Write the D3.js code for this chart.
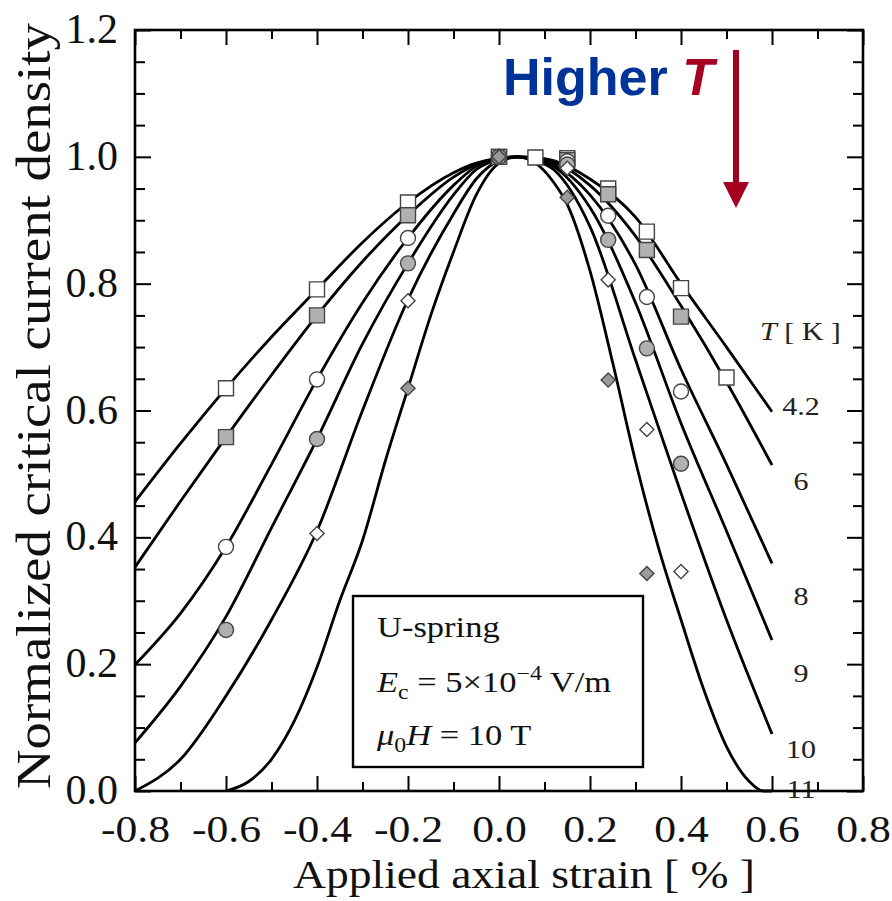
<!DOCTYPE html>
<html>
<head>
<meta charset="utf-8">
<script src="https://cdn.jsdelivr.net/npm/d3@7"></script>
<style>
  body { margin: 0; background: #fff; }
  text { font-family: "Liberation Serif", "Times New Roman", serif; }
</style>
</head>
<body>
<script>
// fitted curves
var fitStrain = [-0.8, -0.7, -0.6, -0.5, -0.4, -0.3, -0.2, -0.1, -0.05, 0, 0.04, 0.08, 0.12, 0.2, 0.3, 0.4, 0.5, 0.6];
var fit42 = [0.456, 0.548, 0.635, 0.716, 0.791, 0.865, 0.928, 0.975, 0.99, 0.998, 1.0, 0.999, 0.994, 0.965, 0.905, 0.80, 0.70, 0.598];
var fit6  = [0.353, 0.457, 0.558, 0.656, 0.750, 0.835, 0.908, 0.968, 0.988, 0.998, 1.0, 0.998, 0.992, 0.955, 0.875, 0.765, 0.645, 0.514];
var fit8  = [0.199, 0.28, 0.385, 0.515, 0.649, 0.77, 0.872, 0.955, 0.985, 0.997, 1.0, 0.997, 0.988, 0.94, 0.83, 0.665, 0.515, 0.359];
var fit9  = [0.076, 0.165, 0.275, 0.415, 0.555, 0.705, 0.832, 0.94, 0.98, 0.996, 1.0, 0.996, 0.985, 0.92, 0.77, 0.58, 0.41, 0.238];
var fit10 = [0.0, 0.05, 0.15, 0.27, 0.41, 0.60, 0.775, 0.91, 0.965, 0.994, 1.0, 0.994, 0.98, 0.89, 0.68, 0.47, 0.27, 0.09];
var strain11 = [-0.6, -0.55, -0.5, -0.45, -0.4, -0.35, -0.3, -0.25, -0.2, -0.15, -0.1, -0.05, 0, 0.04, 0.08, 0.12, 0.15, 0.2, 0.25, 0.3, 0.35, 0.4, 0.45, 0.5, 0.55, 0.58, 0.6];
var fit11 = [0, 0.015, 0.05, 0.11, 0.195, 0.30, 0.395, 0.52, 0.635, 0.75, 0.85, 0.94, 0.99, 1.0, 0.99, 0.96, 0.925, 0.82, 0.675, 0.52, 0.385, 0.27, 0.16, 0.07, 0.015, 0, 0];

// measured points
var markerStrain = [-0.6, -0.4, -0.2, 0, 0.08, 0.15, 0.24, 0.325, 0.4, 0.5];
var meas42 = [0.635, 0.791, 0.928, 1.0, 0.999, 0.998, 0.95, 0.882, 0.793, 0.652];
var meas6  = [0.558, 0.750, 0.908, 1.0, null, 0.995, 0.941, 0.853, 0.748, null];
var meas8  = [0.385, 0.649, 0.872, 1.0, null, 0.993, 0.907, 0.779, 0.630, null];
var meas9  = [0.254, 0.555, 0.832, 1.0, null, 0.988, 0.869, 0.698, 0.516, null];
var meas10 = [null, 0.406, 0.773, 1.0, null, 0.982, 0.806, 0.570, 0.346, null];
var meas11 = [null, null, 0.635, 1.0, null, 0.936, 0.648, 0.343, null, null];

var tempLabels = ["4.2", "6", "8", "9", "10", "11"];
var xMajor = [-0.8, -0.6, -0.4, -0.2, 0, 0.2, 0.4, 0.6, 0.8];
var xMinor = [-0.7, -0.5, -0.3, -0.1, 0.1, 0.3, 0.5, 0.7];
var yMajor = [0, 0.2, 0.4, 0.6, 0.8, 1.0, 1.2];
var yMinor = [0.05, 0.1, 0.15, 0.25, 0.3, 0.35, 0.45, 0.5, 0.55, 0.65, 0.7, 0.75, 0.85, 0.9, 0.95, 1.05, 1.1, 1.15];

var serif = "'Liberation Serif', 'Times New Roman', serif";
var L = 135, T = 30, R = 863, B = 791;
var svg = d3.select("body").append("svg").attr("width", 892).attr("height", 901);

var x = d3.scaleLinear().domain([-0.8, 0.8]).range([L, R]);
var y = d3.scaleLinear().domain([0, 1.2]).range([B, T]);

var line = d3.line()
    .x(function(d){ return x(d[0]); })
    .y(function(d){ return y(d[1]); })
    .curve(d3.curveMonotoneX);

var fits = [fit42, fit6, fit8, fit9, fit10];
fits.forEach(function(f){
    svg.append("path")
        .attr("d", line(fitStrain.map(function(s, i){ return [s, f[i]]; })))
        .attr("fill", "none").attr("stroke", "#000").attr("stroke-width", 2.8);
});
svg.append("path")
    .attr("d", line(strain11.map(function(s, i){ return [s, fit11[i]]; })))
    .attr("fill", "none").attr("stroke", "#000").attr("stroke-width", 2.8);

// markers
var series = [
    {vals: meas42, shape: d3.symbolSquare, size: 225, fill: "#fff", rot: 0},
    {vals: meas6,  shape: d3.symbolSquare, size: 225, fill: "#b0b0b0", rot: 0},
    {vals: meas8,  shape: d3.symbolCircle, size: 177, fill: "#fff", rot: 0},
    {vals: meas9,  shape: d3.symbolCircle, size: 177, fill: "#b0b0b0", rot: 0},
    {vals: meas10, shape: d3.symbolSquare, size: 100, fill: "#fff", rot: 45},
    {vals: meas11, shape: d3.symbolSquare, size: 100, fill: "#9a9a9a", rot: 45}
];
series.forEach(function(s){
    var pts = markerStrain.map(function(m, i){ return [m, s.vals[i]]; })
        .filter(function(d){ return d[1] != null; });
    svg.append("g").selectAll("path").data(pts).enter().append("path")
        .attr("d", d3.symbol().type(s.shape).size(s.size))
        .attr("transform", function(d){ return "translate(" + x(d[0]) + "," + y(d[1]) + ") rotate(" + s.rot + ")"; })
        .attr("fill", s.fill).attr("stroke", "#444").attr("stroke-width", 1.4);
});

// temperature labels
var labelBaseY = [415, 490, 605, 682, 758, 798];
tempLabels.forEach(function(t, i){
    svg.append("text")
        .attr("transform", "translate(801," + labelBaseY[i] + ") scale(1.2,1)")
        .attr("text-anchor", "middle").attr("font-size", 25).attr("fill", "#222")
        .style("font-family", serif)
        .text(t);
});
var tk = svg.append("text").attr("transform", "translate(760,340) scale(1.2,1)")
    .attr("font-size", 25).attr("fill", "#222").style("font-family", serif);
tk.append("tspan").attr("font-style", "italic").text("T");
tk.append("tspan").text(" [ K ]");

// axes
function tickStyle(g) {
    g.select(".domain").remove();
    g.selectAll("line").attr("stroke", "#000").attr("stroke-width", 2);
}
var gx = svg.append("g").attr("transform", "translate(0," + B + ")")
    .call(d3.axisBottom(x).tickValues(xMajor).tickSize(-15).tickFormat(function(d){ return d.toFixed(1); }));
tickStyle(gx);
gx.selectAll("text").attr("y", 51).attr("dy", null).attr("font-size", 37)
    .style("font-family", serif)
    .attr("fill", "#111").attr("transform", "scale(1.18,1)");
svg.append("g").attr("transform", "translate(0," + B + ")")
    .call(d3.axisBottom(x).tickValues(xMinor).tickSize(-9).tickFormat("")).call(tickStyle);
svg.append("g").attr("transform", "translate(0," + T + ")")
    .call(d3.axisTop(x).tickValues(xMajor).tickSize(-15).tickFormat("")).call(tickStyle);
svg.append("g").attr("transform", "translate(0," + T + ")")
    .call(d3.axisTop(x).tickValues(xMinor).tickSize(-9).tickFormat("")).call(tickStyle);

var gy = svg.append("g").attr("transform", "translate(" + L + ",0)")
    .call(d3.axisLeft(y).tickValues(yMajor).tickSize(-16).tickFormat(function(d){ return d.toFixed(1); }));
tickStyle(gy);
gy.selectAll("text").attr("x", -17).attr("dy", "0.3em").attr("font-size", 42)
    .style("font-family", serif).attr("fill", "#111");
svg.append("g").attr("transform", "translate(" + L + ",0)")
    .call(d3.axisLeft(y).tickValues(yMinor).tickSize(-10).tickFormat("")).call(tickStyle);
svg.append("g").attr("transform", "translate(" + R + ",0)")
    .call(d3.axisRight(y).tickValues(yMajor).tickSize(-16).tickFormat("")).call(tickStyle);
svg.append("g").attr("transform", "translate(" + R + ",0)")
    .call(d3.axisRight(y).tickValues(yMinor).tickSize(-10).tickFormat("")).call(tickStyle);

svg.append("rect").attr("x", L).attr("y", T).attr("width", R - L).attr("height", B - T)
    .attr("fill", "none").attr("stroke", "#000").attr("stroke-width", 2.6);

// axis titles
svg.append("text").attr("x", 524).attr("y", 888).attr("text-anchor", "middle")
    .attr("font-size", 39).attr("textLength", 462).attr("lengthAdjust", "spacingAndGlyphs")
    .style("font-family", serif)
    .attr("fill", "#111").text("Applied axial strain [ % ]");
svg.append("text").attr("transform", "translate(50,406) rotate(-90)").attr("text-anchor", "middle")
    .attr("font-size", 48).attr("textLength", 766).attr("lengthAdjust", "spacingAndGlyphs")
    .style("font-family", serif)
    .attr("fill", "#111").text("Normalized critical current density");

// condition box
svg.append("rect").attr("x", 353).attr("y", 596).attr("width", 290).attr("height", 171)
    .attr("fill", "#fff").attr("stroke", "#000").attr("stroke-width", 2.4);
svg.append("text").attr("transform", "translate(377,637) scale(1.19,1)")
    .attr("font-size", 29).attr("fill", "#111").style("font-family", serif).text("U-spring");
var l2 = svg.append("text").attr("transform", "translate(377,692) scale(1.19,1)")
    .attr("font-size", 29).attr("fill", "#111").style("font-family", serif);
l2.append("tspan").attr("font-style", "italic").text("E");
l2.append("tspan").attr("font-size", 20).attr("dy", 7).text("c");
l2.append("tspan").attr("dy", -7).text(" = 5\u00d710");
l2.append("tspan").attr("font-size", 20).attr("dy", -12).text("\u22124");
l2.append("tspan").attr("dy", 12).text(" V/m");
var l3 = svg.append("text").attr("transform", "translate(377,745) scale(1.19,1)")
    .attr("font-size", 29).attr("fill", "#111").style("font-family", serif);
l3.append("tspan").attr("font-style", "italic").text("\u03bc");
l3.append("tspan").attr("font-size", 20).attr("dy", 7).text("0");
l3.append("tspan").attr("dy", -7).attr("font-style", "italic").text("H");
l3.append("tspan").text(" = 10 T");

// Higher T annotation
var ht = svg.append("text").attr("x", 503).attr("y", 95)
    .style("font-family", "'Liberation Sans', Arial, sans-serif")
    .attr("font-size", 52).attr("font-weight", "bold");
ht.append("tspan").attr("fill", "#003399").text("Higher ");
ht.append("tspan").attr("fill", "#a50021").attr("font-style", "italic").text("T");
svg.append("line").attr("x1", 736).attr("x2", 736).attr("y1", 50).attr("y2", 186)
    .attr("stroke", "#a50021").attr("stroke-width", 6);
svg.append("path").attr("d", "M723,182 L749,182 L736,208 Z").attr("fill", "#a50021");
</script>
</body>
</html>
